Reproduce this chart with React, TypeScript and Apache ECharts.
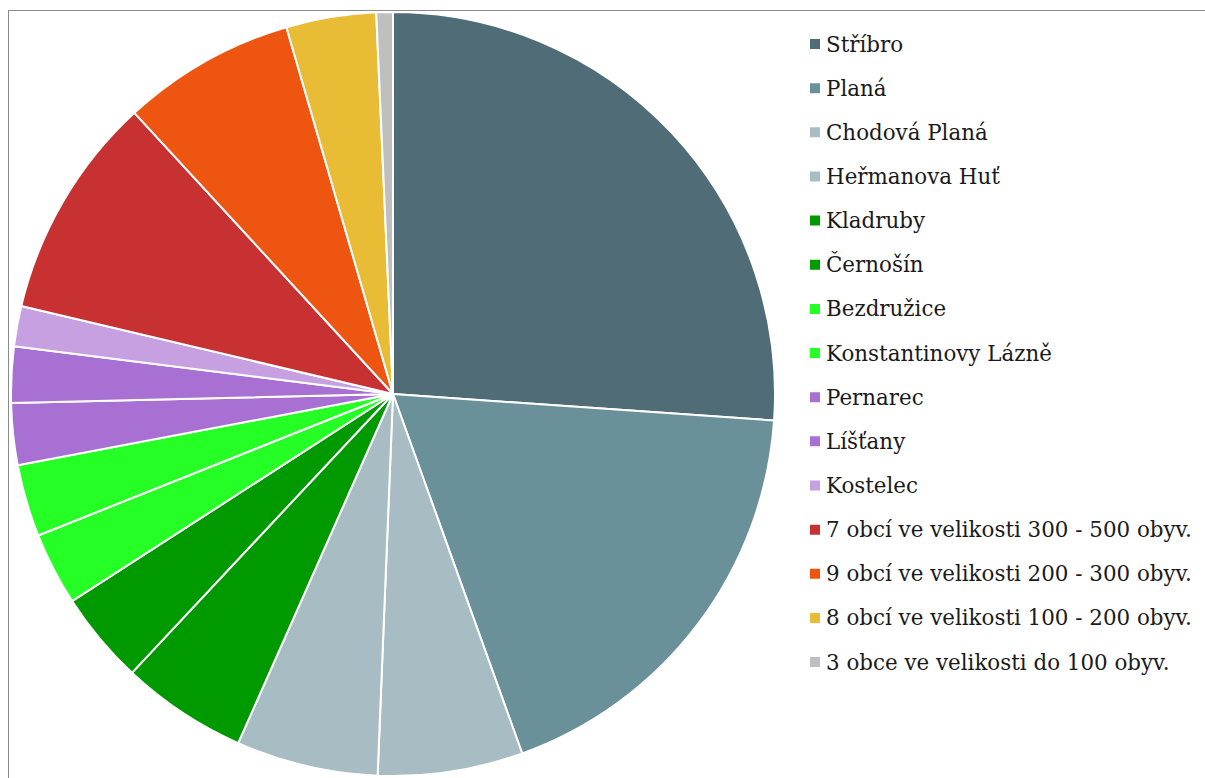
import React, { useEffect, useRef } from "react";
import * as echarts from "echarts";

const names = [
  "Stříbro",
  "Planá",
  "Chodová Planá",
  "Heřmanova Huť",
  "Kladruby",
  "Černošín",
  "Bezdružice",
  "Konstantinovy Lázně",
  "Pernarec",
  "Líšťany",
  "Kostelec",
  "7 obcí ve velikosti 300 - 500 obyv.",
  "9 obcí ve velikosti 200 - 300 obyv.",
  "8 obcí ve velikosti 100 - 200 obyv.",
  "3 obce ve velikosti do 100 obyv.",
];

const values = [7830, 5520, 1840, 1800, 1600, 1170, 925, 915, 785, 710, 510, 2840, 2200, 1140, 210];

const colors = [
  "#4f6c77",
  "#6a909a",
  "#a7bcc3",
  "#a7bcc3",
  "#009900",
  "#009900",
  "#26ff26",
  "#26ff26",
  "#a970d3",
  "#a970d3",
  "#c6a0e0",
  "#c83131",
  "#ee5511",
  "#e9bc35",
  "#bfbfbf",
];

export default function App() {
  const ref = useRef<HTMLDivElement>(null);
  useEffect(() => {
    if (!ref.current) return;
    const chart = echarts.init(ref.current, null, { renderer: "svg" });
    chart.setOption({
      animation: false,
      color: colors,
      legend: {
        orient: "vertical",
        left: 799,
        top: 22,
        padding: 0,
        itemWidth: 12,
        itemHeight: 12,
        itemGap: 22.15,
        icon: "rect",
        textStyle: {
          fontFamily: "'DejaVu Serif', serif",
          fontSize: 21.4,
          color: "#1a1a1a",
          lineHeight: 22,
          padding: [0, 0, 0, 0],
        },
        data: names,
      },
      series: [
        {
          type: "pie",
          center: [384, 383],
          radius: [0, 382],
          startAngle: 90,
          clockwise: true,
          label: { show: false },
          labelLine: { show: false },
          itemStyle: { borderColor: "#ffffff", borderWidth: 2 },
          emphasis: { disabled: true },
          data: names.map((n, i) => ({ name: n, value: values[i] })),
        },
      ],
    });
    return () => chart.dispose();
  }, []);
  return (
    <div
      style={{
        position: "absolute",
        left: 8,
        top: 10,
        width: 1210,
        height: 780,
        borderLeft: "1px solid #8a8a8a",
        borderTop: "1px solid #8a8a8a",
        boxSizing: "border-box",
        background: "#fff",
      }}
    >
      <div ref={ref} style={{ width: 1200, height: 768 }} />
    </div>
  );
}
